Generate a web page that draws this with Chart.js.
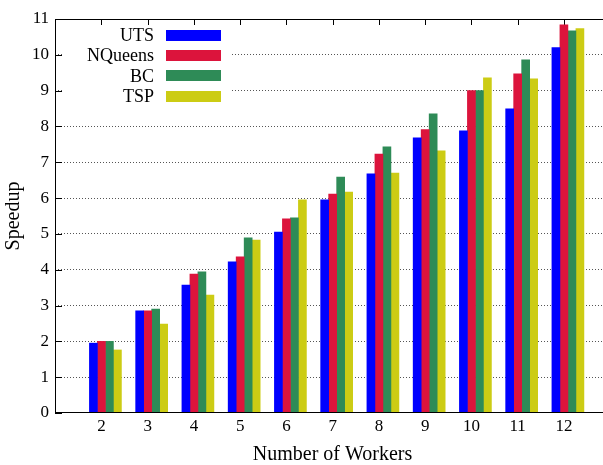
<!DOCTYPE html>
<html>
<head>
<meta charset="utf-8">
<script src="https://cdn.jsdelivr.net/npm/chart.js@4/dist/chart.umd.min.js"></script>
<style>
  html, body { margin: 0; padding: 0; background: #fff; overflow: hidden; }
  #frame { width: 603px; height: 465px; overflow: hidden; position: relative; }
  #wrap { position: absolute; left: 0; top: 0; width: 610px; height: 465px; }
</style>
</head>
<body>
<div id="frame"><div id="wrap"><canvas id="c" width="610" height="465"></canvas></div></div>
<script>
// Speedup per benchmark against the number of workers
const workers = [2, 3, 4, 5, 6, 7, 8, 9, 10, 11, 12];
const uts     = [1.95, 2.85, 3.57, 4.22, 5.05, 5.95, 6.68, 7.68, 7.88, 8.49, 10.20];
const nqueens = [2.00, 2.85, 3.88, 4.36, 5.42, 6.11, 7.23, 7.91, 9.00, 9.47, 10.84];
const bc      = [2.00, 2.90, 3.94, 4.89, 5.45, 6.59, 7.43, 8.35, 9.00, 9.86, 10.67];
const tsp     = [1.76, 2.48, 3.29, 4.83, 5.95, 6.17, 6.70, 7.32, 9.36, 9.33, 10.73];
const seriesNames  = ['UTS', 'NQueens', 'BC', 'TSP'];
const seriesValues = [uts, nqueens, bc, tsp];
const seriesColors = ['#0000ff', '#dc143c', '#2e8b57', '#cccc14'];
const yTickValues  = [0, 1, 2, 3, 4, 5, 6, 7, 8, 9, 10, 11];

const SERIF = '"Liberation Serif", "Times New Roman", serif';
// each cluster of bars sits a few pixels right of its tick
const CLUSTER_SHIFT = 0.09;   // in worker units
const LABEL_SHIFT = -4;       // px, moves the tick label back onto the tick

const datasets = seriesNames.map((name, s) => ({
  label: name,
  data: workers.map((w, i) => ({ x: w, y: seriesValues[s][i] })),
  backgroundColor: seriesColors[s],
  borderWidth: 0,
  barThickness: 8
}));

const framePlugin = {
  id: 'frame',
  beforeDatasetsDraw(chart) {
    const { ctx, chartArea: a, scales: { x, y } } = chart;
    ctx.save();
    ctx.strokeStyle = '#000';
    ctx.lineWidth = 1;
    ctx.beginPath();
    // inward tick marks on the value axis
    yTickValues.forEach(v => {
      const py = Math.round(y.getPixelForValue(v)) + 0.5;
      ctx.moveTo(a.left, py); ctx.lineTo(a.left + 7, py);
      ctx.moveTo(a.right, py); ctx.lineTo(a.right - 7, py);
    });
    // inward tick marks on the worker axis, top and bottom
    workers.forEach(w => {
      const px = Math.round(x.getPixelForValue(w) + LABEL_SHIFT) + 0.5;
      ctx.moveTo(px, a.top); ctx.lineTo(px, a.top + 6);
      ctx.moveTo(px, a.bottom); ctx.lineTo(px, a.bottom - 6);
    });
    ctx.stroke();
    ctx.restore();
  },
  afterDatasetsDraw(chart) {
    const { ctx, chartArea: a } = chart;
    ctx.save();
    // plot border
    ctx.strokeStyle = '#000';
    ctx.lineWidth = 1;
    ctx.strokeRect(a.left + 0.5, a.top + 0.5, a.right - a.left - 1, a.bottom - a.top - 1);

    // key, top left inside the plot, on an opaque box
    ctx.fillStyle = '#fff';
    ctx.fillRect(63, 26, 168, 80);
    ctx.font = '18px ' + SERIF;
    ctx.textAlign = 'right';
    ctx.textBaseline = 'middle';
    chart.data.datasets.forEach((ds, i) => {
      const cy = 35.5 + i * 20.2;
      ctx.fillStyle = '#000';
      ctx.fillText(ds.label, 154, cy + 1);
      ctx.fillStyle = ds.backgroundColor;
      ctx.fillRect(166, Math.round(cy - 5.5), 55, 11);
    });
    ctx.restore();
  }
};

new Chart(document.getElementById('c'), {
  type: 'bar',
  data: { datasets },
  plugins: [framePlugin],
  options: {
    responsive: false,
    animation: false,
    devicePixelRatio: 1,
    layout: { padding: { top: 19, right: 0, left: 0, bottom: 0 } },
    plugins: { legend: { display: false }, tooltip: { enabled: false } },
    scales: {
      x: {
        type: 'linear',
        offset: false,
        min: 1 - CLUSTER_SHIFT,
        max: 13 - CLUSTER_SHIFT,
        afterBuildTicks(scale) { scale.ticks = workers.map(v => ({ value: v })); },
        afterFit(scale) { scale.height = 52; },
        grid: { display: false, drawTicks: false },
        border: { display: false },
        ticks: {
          autoSkip: false,
          maxRotation: 0,
          labelOffset: LABEL_SHIFT,
          padding: 3,
          color: '#000',
          font: { family: SERIF, size: 17 },
          callback: v => String(v)
        },
        title: {
          display: true,
          text: 'Number of Workers',
          color: '#000',
          font: { family: SERIF, size: 20 },
          padding: { top: 0, bottom: -2 }
        }
      },
      y: {
        min: 0,
        max: 11,
        afterBuildTicks(scale) { scale.ticks = yTickValues.map(v => ({ value: v })); },
        afterFit(scale) { scale.width = 55; },
        grid: {
          drawTicks: false,
          lineWidth: 1,
          color: c => (c.tick && (c.tick.value === 0 || c.tick.value === 11)) ? 'rgba(0,0,0,0)' : '#555'
        },
        border: { display: false, dash: [1, 2] },
        ticks: {
          padding: 6,
          color: '#000',
          font: { family: SERIF, size: 17 }
        },
        title: {
          display: true,
          text: 'Speedup',
          color: '#000',
          font: { family: SERIF, size: 20 },
          padding: { top: 2, bottom: 0 }
        }
      }
    }
  }
});
</script>
</body>
</html>
